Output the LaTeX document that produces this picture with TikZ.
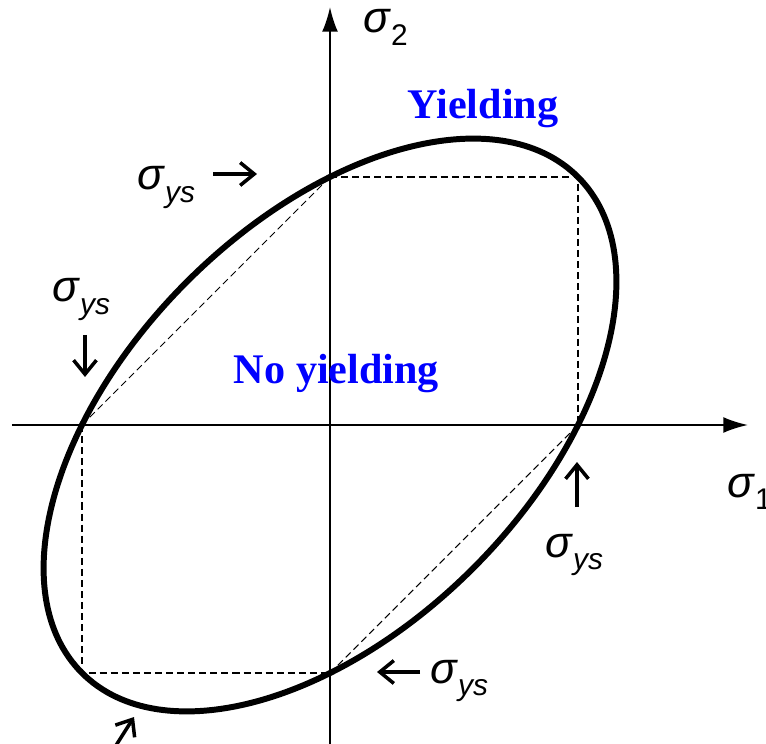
\documentclass[tikz,border=0pt]{standalone}
\usepackage{fontspec}
\setmainfont{Liberation Serif}
\newfontfamily\arialfont{Liberation Sans}
\usetikzlibrary{arrows.meta}
\begin{document}
\begin{tikzpicture}[x=0.02cm,y=0.02cm]
			% Styles
			\tikzstyle{axe}=[-{Latex[length=14pt,width=9pt]},line width=1.1pt]
			\tikzstyle{courbe}=[line width=3.4pt]
			\tikzstyle{pointille}=[line width=0.6pt,dash pattern=on 4pt off 2.3pt]
			\tikzstyle{fleche}=[-{Straight Barb[length=8pt,width=13pt,line width=2pt]},line width=2pt]
			\tikzstyle{etiquette}=[inner sep=0pt,anchor=base west,font=\arialfont\fontsize{25}{25}\selectfont]
			\tikzstyle{zone}=[text=blue,font=\bfseries\fontsize{24}{24}\selectfont,inner sep=0pt,anchor=base]
			% Dimensions
			\def\Sys{248}
			\def\GrandAxe{350.7}
			\def\PetitAxe{202.5}
			\def\Sig#1{\textit{σ}\raisebox{-7pt}{\fontsize{17}{17}\selectfont\itshape #1}}
			% Cadre
			\useasboundingbox (-330,-318) rectangle (436,425);
			\clip (-330,-318) rectangle (436,425);
			% Points
			\coordinate (O) at (0,0);
			\coordinate (A) at (\Sys,0);
			\coordinate (B) at (0,\Sys);
			\coordinate (C) at (\Sys,\Sys);
			\coordinate (D) at (-\Sys,0);
			\coordinate (E) at (-\Sys,-\Sys);
			\coordinate (F) at (0,-\Sys);
			\coordinate (Xdeb) at (-318,0);
			\coordinate (Xfin) at (418,0);
			\coordinate (Ydeb) at (0,-320);
			\coordinate (Yfin) at (0,418);
			% Axes
			\draw[axe] (Xdeb)--(Xfin);
			\draw[axe] (Ydeb)--(Yfin);
			\node[etiquette] (s1) at (397,-72) {\Sig{\upshape 1}};
			\node[etiquette] (s2) at (33,392) {\Sig{\upshape 2}};
			% Carre et diagonales
			\draw[pointille] (B)--(C)--(A);
			\draw[pointille] (D)--(E)--(F);
			\draw[pointille] (D)--(B);
			\draw[pointille] (F)--(A);
			% Ellipse
			\draw[courbe,rotate=45] (O) ellipse ({\GrandAxe} and {\PetitAxe});
			% Textes
			\node[zone] (ecoule) at (153,306) {Yielding};
			\node[zone] (nonecoule) at (6.5,42) {No yielding};
			% Etiquettes sigma_ys
			\node[etiquette] (Sa) at (-193,235) {\Sig{ys}};
			\node[etiquette] (Sb) at (-278,123) {\Sig{ys}};
			\node[etiquette] (Sc) at (215,-132) {\Sig{ys}};
			\node[etiquette] (Sd) at (100,-258) {\Sig{ys}};
			% Fleches
			\coordinate (Fa1) at (-117,251); \coordinate (Fa2) at (-73,251);
			\coordinate (Fb1) at (-245,90); \coordinate (Fb2) at (-245,48);
			\coordinate (Fc1) at (247,-82); \coordinate (Fc2) at (247,-37);
			\coordinate (Fd1) at (90,-247); \coordinate (Fd2) at (47,-247);
			\coordinate (Fe1) at (-215,-322); \coordinate (Fe2) at (-196,-292);
			\draw[fleche] (Fa1)--(Fa2);
			\draw[fleche] (Fb1)--(Fb2);
			\draw[fleche] (Fc1)--(Fc2);
			\draw[fleche] (Fd1)--(Fd2);
			\draw[fleche] (Fe1)--(Fe2);
		\end{tikzpicture}
\end{document}
